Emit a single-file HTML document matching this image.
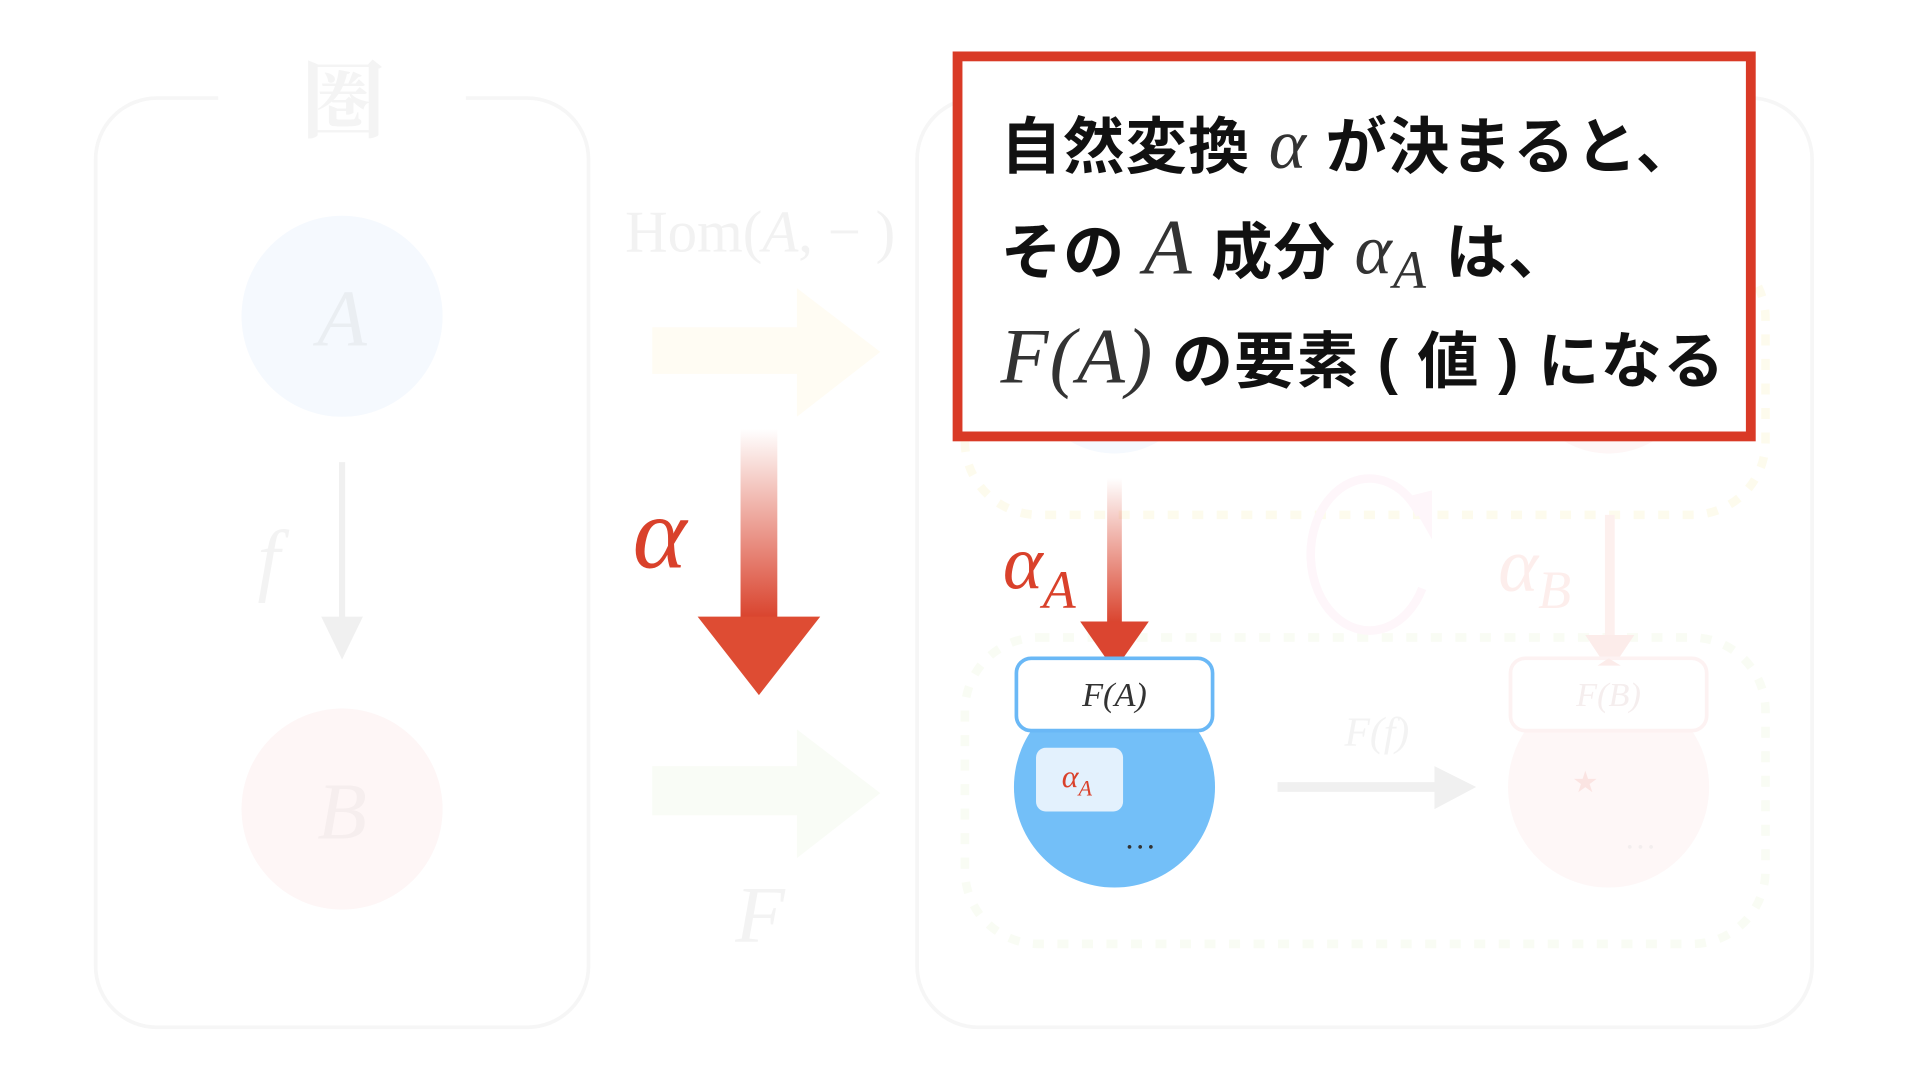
<!DOCTYPE html>
<html><head><meta charset="utf-8"><style>
html,body{margin:0;padding:0;background:#fff;width:1920px;height:1080px;overflow:hidden}
svg{display:block}
.m{font-family:"Liberation Serif",serif;font-style:italic}
.j{font-family:"Liberation Sans","Noto Sans CJK JP",sans-serif;font-weight:bold}
</style></head><body>
<svg width="1920" height="1080" viewBox="0 0 1566 881" preserveAspectRatio="none">
<defs>
<linearGradient id="g1" x1="0" y1="0" x2="0" y2="1">
<stop offset="0" stop-color="#d9412b" stop-opacity="0"/>
<stop offset="1" stop-color="#d9412b"/>
</linearGradient>
<linearGradient id="g2" x1="0" y1="0" x2="0" y2="1">
<stop offset="0" stop-color="#d9412b" stop-opacity="0"/>
<stop offset="1" stop-color="#d9412b"/>
</linearGradient>
</defs>
<rect x="78" y="80" width="402" height="758" rx="50" fill="none" stroke="#f6f6f6" stroke-width="3"/>
<rect x="178" y="70" width="202" height="20" fill="#fff"/>
<text x="280" y="107" text-anchor="middle" font-family="'Noto Serif CJK SC',serif" font-size="68" font-weight="bold" fill="#f4f4f4">圏</text>
<circle cx="279" cy="258" r="82" fill="#f5f9fe"/>
<text x="279" y="282" text-anchor="middle" class="m" font-size="66" fill="#eaeef2">A</text>
<line x1="279" y1="377" x2="279" y2="505" stroke="#f0f0f0" stroke-width="5"/>
<polygon points="262,503 296,503 279,538" fill="#f0f0f0"/>
<text x="210" y="478" class="m" font-size="66" fill="#f3f3f3">f</text>
<circle cx="279" cy="660" r="82" fill="#fef6f6"/>
<text x="279" y="684" text-anchor="middle" class="m" font-size="66" fill="#f6eeee">B</text>
<text x="620" y="205" text-anchor="middle" font-family="'Liberation Serif',serif" font-size="48" fill="#f2f2f2">Hom(<tspan font-style="italic">A</tspan>, − )</text>
<polygon points="532,267 650,267 650,235 718,287 650,340 650,305 532,305" fill="#fffcf3"/>
<polygon points="532,625 650,625 650,595 718,647 650,700 650,665 532,665" fill="#f9fcf6"/>
<text x="620" y="768" text-anchor="middle" class="m" font-size="66" fill="#f3f3f3">F</text>
<rect x="604" y="350" width="30" height="156" fill="url(#g1)"/>
<polygon points="569,503 669,503 619,567" fill="#de4c33"/>
<text x="538" y="463" text-anchor="middle" class="m" font-size="84" fill="#d9412b">α</text>
<rect x="748" y="80" width="730" height="758" rx="50" fill="none" stroke="#f6f6f6" stroke-width="3"/>
<rect x="787" y="200" width="653" height="220" rx="60" fill="none" stroke="#fdfbed" stroke-width="7" stroke-dasharray="9,11"/>
<rect x="787" y="520" width="653" height="250" rx="60" fill="none" stroke="#f9fcf4" stroke-width="7" stroke-dasharray="9,11"/>
<circle cx="909" cy="300" r="70" fill="#f5f9fe"/>
<circle cx="1312" cy="300" r="70" fill="#fef6f6"/>
<path d="M1158,420 A48,62 0 1 0 1160,480" fill="none" stroke="#fef6fa" stroke-width="7"/>
<polygon points="1148,405 1168,400 1168,440" fill="#fef6fa"/>
<line x1="1313" y1="420" x2="1313" y2="520" stroke="#fdf0ee" stroke-width="8"/>
<polygon points="1293,518 1333,518 1313,548" fill="#fcecea"/>
<text x="1222" y="482" class="m" font-size="62" fill="#fdeeec">α<tspan font-size="44" dy="14">B</tspan></text>
<rect x="903" y="390" width="12" height="120" fill="url(#g2)"/>
<polygon points="881,507 937,507 909,547" fill="#db4530"/>
<text x="818" y="480" class="m" font-size="62" fill="#d9412b">α<tspan font-size="44" dy="16">A</tspan></text>
<circle cx="909" cy="642" r="82" fill="#73bff8"/>
<rect x="829" y="537" width="160" height="59" rx="12" fill="#fff" stroke="#6ab8f6" stroke-width="3"/>
<text x="909" y="576" text-anchor="middle" class="m" font-size="28" fill="#333">F(A)</text>
<rect x="845" y="610" width="71" height="52" rx="8" fill="#e3f1fd"/>
<text x="866" y="642" class="m" font-size="26" fill="#d9412b">α<tspan font-size="18" dy="7">A</tspan></text>
<text x="930" y="692" text-anchor="middle" font-family="'Liberation Serif',serif" font-size="26" fill="#333">…</text>
<line x1="1042" y1="642" x2="1172" y2="642" stroke="#f0f0f0" stroke-width="8"/>
<polygon points="1170,625 1204,642 1170,660" fill="#f0f0f0"/>
<text x="1123" y="608" text-anchor="middle" class="m" font-size="34" fill="#f3f3f3">F(f)</text>
<circle cx="1312" cy="642" r="82" fill="#fef7f7"/>
<rect x="1232" y="537" width="160" height="59" rx="12" fill="#fff" stroke="#fdf2f2" stroke-width="3"/>
<polygon points="1312,537 1303,543 1322,543" fill="#fcecea"/>
<text x="1312" y="576" text-anchor="middle" class="m" font-size="28" fill="#f5eeee">F(B)</text>
<text x="1293" y="646" text-anchor="middle" font-family="'DejaVu Sans',sans-serif" font-size="24" fill="#fbe4e2">★</text>
<text x="1338" y="692" text-anchor="middle" font-family="'Liberation Serif',serif" font-size="26" fill="#f3eeee">…</text>
<rect x="781" y="46" width="647" height="310" fill="#fff" stroke="#d93a26" stroke-width="8"/>
<text x="816" y="137" class="j" font-size="50" letter-spacing="1" fill="#111">自然変換 <tspan class="m" font-weight="normal" font-size="58" fill="#333">α</tspan> が決まると、</text>
<text x="816" y="223" class="j" font-size="50" letter-spacing="1" fill="#111">その <tspan class="m" font-weight="normal" font-size="64" fill="#333">A</tspan> 成分 <tspan class="m" font-weight="normal" font-size="58" fill="#333">α<tspan font-size="44" dy="12">A</tspan></tspan><tspan dy="-12"> は、</tspan></text>
<text x="816" y="312" class="j" font-size="50" letter-spacing="1" fill="#111"><tspan class="m" font-weight="normal" font-size="64" fill="#333">F(A)</tspan> の要素 ( 値 ) になる</text>
</svg>
</body></html>
